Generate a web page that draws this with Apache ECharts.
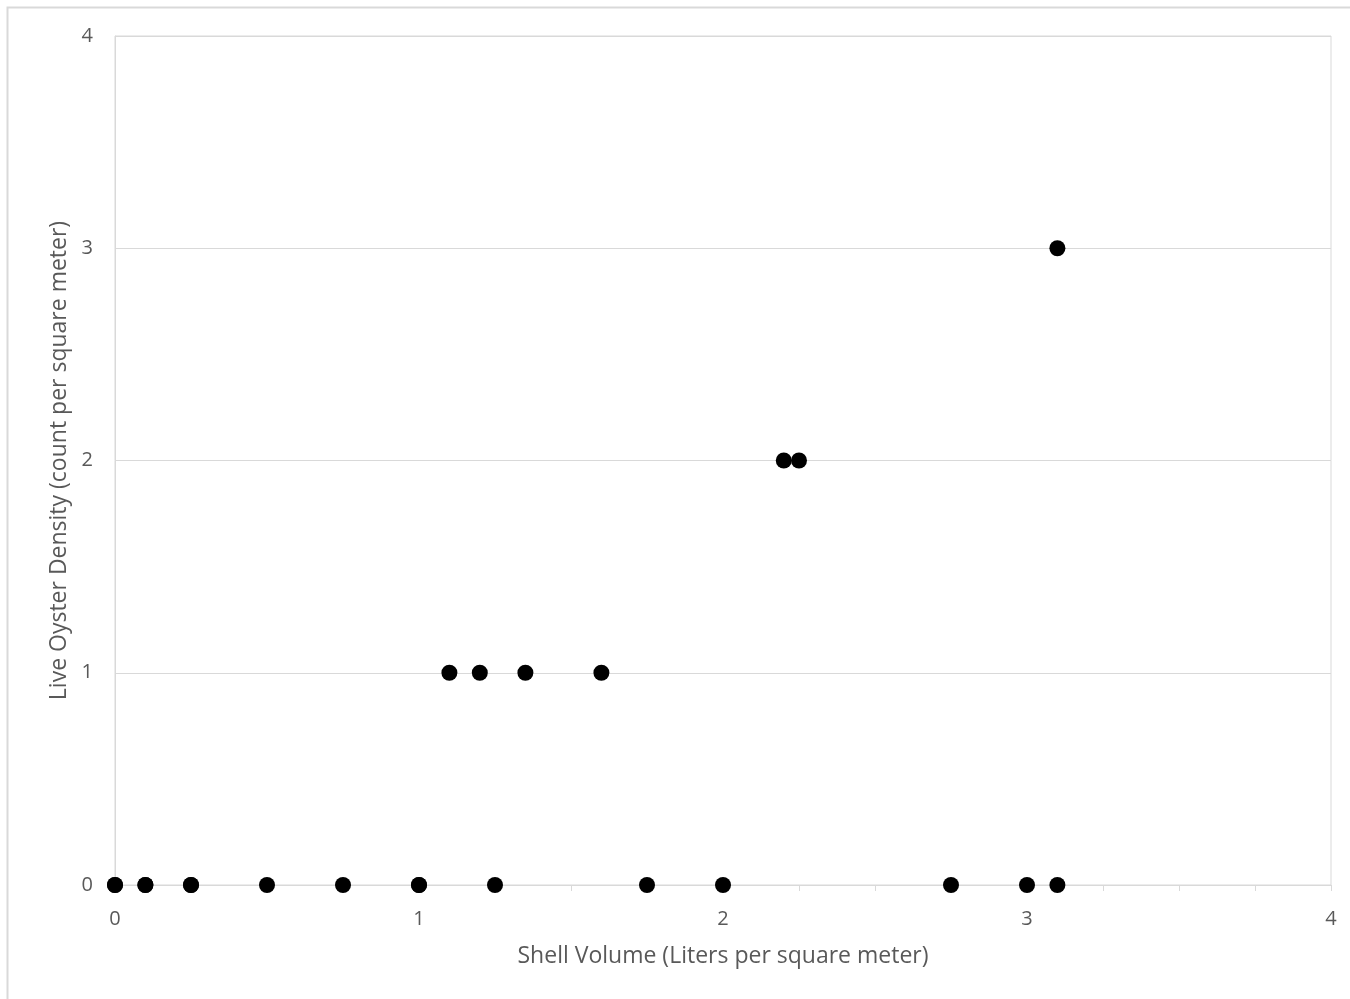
<!DOCTYPE html>
<html>
<head>
<meta charset="utf-8">
<script src="https://cdn.jsdelivr.net/npm/echarts@6/dist/echarts.min.js"></script>
<style>html,body{margin:0;padding:0;background:#fff;}#c{width:1350px;height:999px;}</style>
</head>
<body>
<div id="c"></div>
<script>
const shellVolume = [0, 0, 0.1, 0.1, 0.25, 0.25, 0.5, 0.75, 1.0, 1.0, 1.25, 1.75, 2.0, 2.75, 3.0, 3.1,
                     1.1, 1.2, 1.35, 1.6, 2.2, 2.25, 3.1];
const oysterDensity = [0, 0, 0, 0, 0, 0, 0, 0, 0, 0, 0, 0, 0, 0, 0, 0,
                       1, 1, 1, 1, 2, 2, 3];
const xTitle = 'Shell Volume (Liters per square meter)';
const yTitle = 'Live Oyster Density (count per square meter)';

const points = shellVolume.map((x, i) => [x, oysterDensity[i]]);
const FONT = 'Open Sans';
const chart = echarts.init(document.getElementById('c'), null, {renderer: 'canvas'});
chart.setOption({
  animation: false,
  backgroundColor: '#fff',
  graphic: [{
    type: 'rect', shape: {x: 7.5, y: 7.5, width: 1400, height: 1100},
    style: {fill: 'none', stroke: '#d9d9d9', lineWidth: 2}, silent: true
  }],
  grid: {left: 115, right: 19, top: 36, bottom: 114, show: true, borderColor: '#d9d9d9', borderWidth: 1, containLabel: false},
  xAxis: {
    type: 'value', min: 0, max: 4, interval: 1,
    name: xTitle, nameLocation: 'middle', nameGap: 60,
    nameTextStyle: {color: '#595959', fontSize: 23, fontFamily: FONT},
    axisLine: {show: true, lineStyle: {color: '#d9d9d9', width: 1}},
    axisTick: {show: true, length: 6, lineStyle: {color: '#d9d9d9'}},
    minorTick: {show: true, splitNumber: 4, length: 6, lineStyle: {color: '#d9d9d9'}},
    splitLine: {show: false},
    axisLabel: {color: '#595959', fontSize: 20, fontFamily: FONT, margin: 24}
  },
  yAxis: {
    type: 'value', min: 0, max: 4, interval: 1,
    name: yTitle, nameLocation: 'middle', nameGap: 43,
    nameTextStyle: {color: '#595959', fontSize: 23, fontFamily: FONT},
    axisLine: {show: true, lineStyle: {color: '#d9d9d9', width: 1}},
    axisTick: {show: false},
    splitLine: {show: true, lineStyle: {color: '#d9d9d9', width: 1}},
    axisLabel: {color: '#595959', fontSize: 20, fontFamily: FONT, margin: 22}
  },
  series: [{
    type: 'scatter', data: points, symbol: 'circle', symbolSize: 16,
    itemStyle: {color: '#000', opacity: 1}
  }]
});
</script>
</body>
</html>
